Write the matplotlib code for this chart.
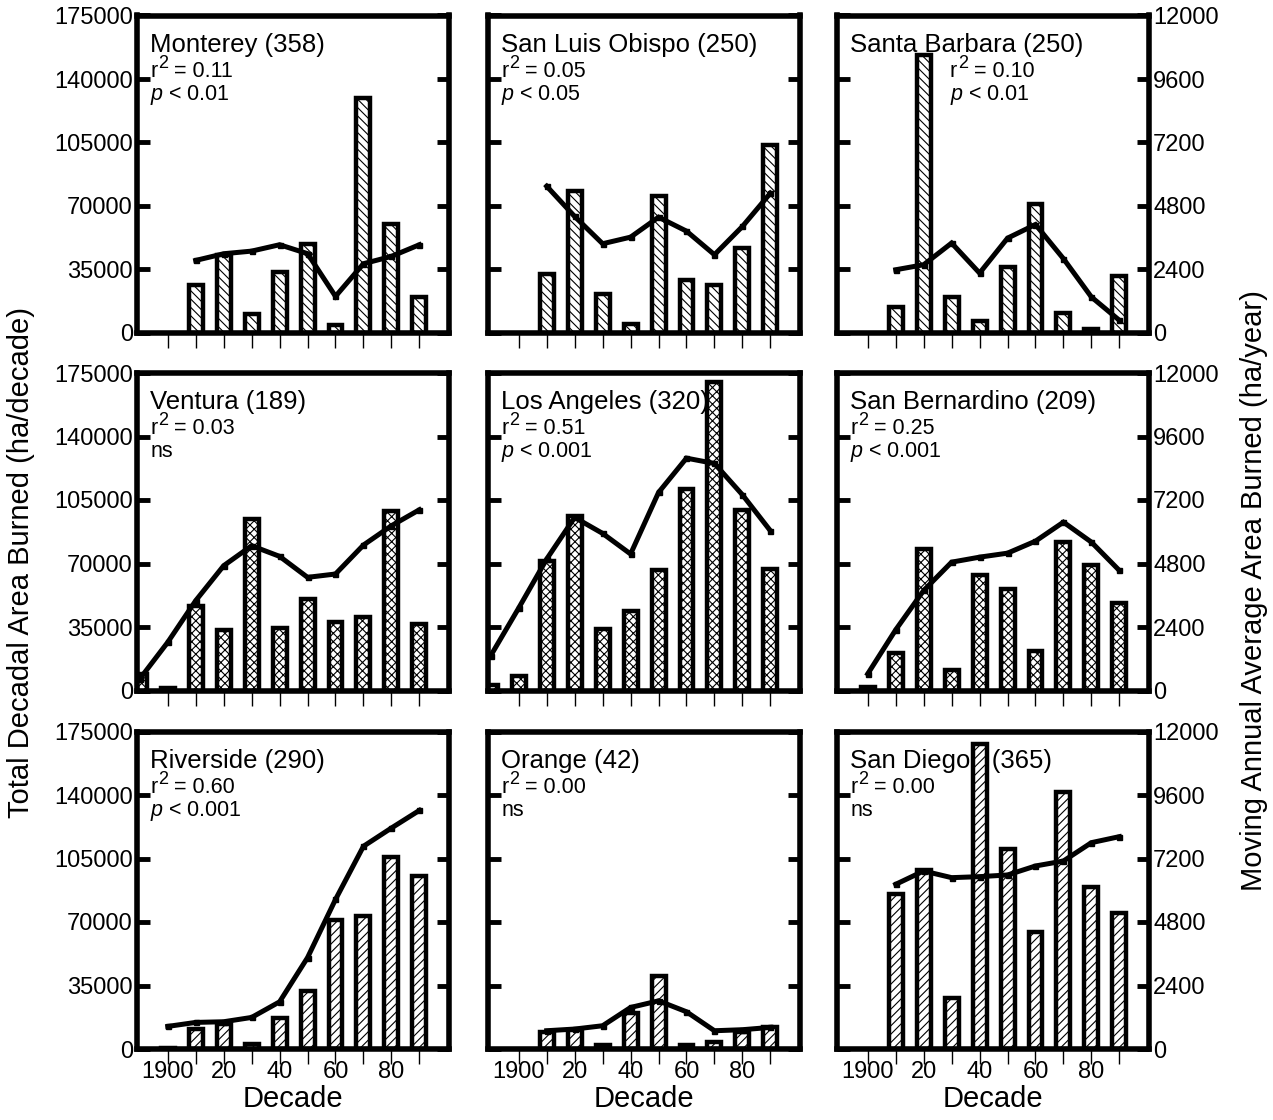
import numpy as np
import matplotlib
matplotlib.use("Agg")
import matplotlib.pyplot as plt

plt.rcParams['font.family'] = ['Liberation Sans', 'DejaVu Sans']
plt.rcParams['mathtext.fontset'] = 'custom'
plt.rcParams['mathtext.rm'] = 'Liberation Sans'
plt.rcParams['mathtext.it'] = 'Liberation Sans:italic'
plt.rcParams['hatch.linewidth'] = 0.8

nan = np.nan
decades = [1890, 1900, 1910, 1920, 1930, 1940, 1950, 1960, 1970, 1980, 1990]
tick_decades = [1900, 1910, 1920, 1930, 1940, 1950, 1960, 1970, 1980, 1990]
tick_labels = ["1900", "", "20", "", "40", "", "60", "", "80", ""]

counties = ["Monterey", "San Luis Obispo", "Santa Barbara",
            "Ventura", "Los Angeles", "San Bernardino",
            "Riverside", "Orange", "San Diego"]
titles = ["Monterey (358)", "San Luis Obispo (250)", "Santa Barbara (250)",
          "Ventura (189)", "Los Angeles (320)", "San Bernardino (209)",
          "Riverside (290)", "Orange (42)", "San Diego   (365)"]
r2_values = ["0.11", "0.05", "0.10", "0.03", "0.51", "0.25", "0.60", "0.00", "0.00"]
p_values = ["< 0.01", "< 0.05", "< 0.01", "ns", "< 0.001", "< 0.001", "< 0.001", "ns", "ns"]

# Total decadal area burned (ha/decade)
bars_monterey = [0, 0, 26400, 43100, 10500, 33400, 49000, 4400, 129700, 60000, 19600]
bars_slo = [0, 0, 32500, 78000, 21500, 5000, 75600, 29400, 26600, 46600, 103700]
bars_sb = [0, 0, 14100, 153500, 20000, 6800, 36500, 71000, 11000, 2200, 31200]
bars_ventura = [9000, 1500, 46600, 33400, 94800, 34700, 50200, 38000, 40700, 98900, 36500]
bars_la = [3000, 8100, 71400, 96100, 34100, 43800, 66400, 110800, 169900, 99400, 67100]
bars_sbern = [0, 2200, 20900, 77800, 11400, 63500, 56100, 21500, 82000, 69000, 48400]
bars_riverside = [0, 700, 10800, 13600, 2600, 17200, 31900, 71300, 73500, 106100, 95100]
bars_orange = [0, 0, 9500, 10300, 2200, 19600, 40100, 2200, 4000, 9500, 12100]
bars_sd = [0, 0, 85700, 98600, 28000, 168200, 110500, 64700, 141600, 89400, 74700]

# Moving annual average area burned (ha/year)
line_monterey = [nan, nan, 2743, 2996, 3095, 3336, 3000, 1385, 2619, 2895, 3336]
line_slo = [nan, nan, 5548, 4404, 3374, 3623, 4378, 3850, 2959, 4027, 5284]
line_sb = [nan, nan, 2390, 2580, 3400, 2265, 3585, 4100, 2808, 1360, 480]
line_ventura = [440, 1824, 3397, 4717, 5472, 5070, 4277, 4403, 5497, 6227, 6831]
line_la = [1321, 3120, 4970, 6541, 5937, 5159, 7484, 8782, 8580, 7397, 6038]
line_sbern = [nan, 630, 2294, 3780, 4851, 5040, 5191, 5645, 6363, 5607, 4536]
line_riverside = [nan, 854, 1005, 1030, 1193, 1783, 3454, 5652, 7662, 8352, 9018]
line_orange = [nan, nan, 690, 754, 879, 1570, 1821, 1407, 690, 729, 816]
line_sd = [nan, nan, 6224, 6728, 6476, 6514, 6577, 6917, 7106, 7799, 8026]

all_bars = [bars_monterey, bars_slo, bars_sb, bars_ventura, bars_la, bars_sbern,
            bars_riverside, bars_orange, bars_sd]
all_lines = [line_monterey, line_slo, line_sb, line_ventura, line_la, line_sbern,
             line_riverside, line_orange, line_sd]

left_ticks = [0, 35000, 70000, 105000, 140000, 175000]
right_ticks = [0, 2400, 4800, 7200, 9600, 12000]
row_hatches = ['\\\\\\\\', 'xxxx', '////']

W, H = 1273, 1120
fig = plt.figure(figsize=(W / 100, H / 100), dpi=100)

col_left_px = [137, 488, 837]
col_w_px = 312
row_top_px = [15.5, 373, 731.5]
row_h_px = 317.5

for i, name in enumerate(counties):
    r, c = divmod(i, 3)
    rect = [col_left_px[c] / W, 1 - (row_top_px[r] + row_h_px) / H, col_w_px / W, row_h_px / H]
    ax = fig.add_axes(rect)
    ax2 = ax.twinx()
    ax.set_xlim(1889, 2000.6)
    ax.set_ylim(0, 175000)
    ax2.set_ylim(0, 12000)

    xs = [d for d, v in zip(decades, all_bars[i]) if v > 0]
    vs = [v for v in all_bars[i] if v > 0]
    ax.bar(xs, vs, width=5.0, facecolor='white', edgecolor='black',
           linewidth=3.2, hatch=row_hatches[r], zorder=2)

    ax2.plot(decades, all_lines[i], color='black', linewidth=3.6,
             marker='s', markersize=3.6, solid_joinstyle='miter', zorder=3)

    # texts
    ax.text(0.042, 0.886, titles[i], transform=ax.transAxes, fontsize=18.5,
            va='baseline', ha='left', zorder=1)
    sx = 0.362 if name == "Santa Barbara" else 0.042
    fs = 15.5
    ax.annotate("r", xy=(sx, 0.807), xycoords='axes fraction', fontsize=fs,
                va='baseline', ha='left', zorder=1)
    ax.annotate("2", xy=(sx, 0.807), xycoords='axes fraction',
                xytext=(0.36 * fs, 0.42 * fs), textcoords='offset points',
                fontsize=13, va='baseline', ha='left', zorder=1)
    ax.annotate("= " + r2_values[i], xy=(sx, 0.807), xycoords='axes fraction',
                xytext=(0.36 * fs + 0.556 * 13 + 4.5, 0), textcoords='offset points',
                fontsize=fs, va='baseline', ha='left', zorder=1)
    if p_values[i] == "ns":
        ptxt = "ns"
    else:
        ptxt = r"$\mathit{p}$ " + p_values[i]
    ax.text(sx, 0.734, ptxt, transform=ax.transAxes, fontsize=fs,
            va='baseline', ha='left', zorder=1)

    for sp in ax.spines.values():
        sp.set_linewidth(4.0)
        sp.set_zorder(4)
    for sp in ax2.spines.values():
        sp.set_visible(False)

    ax.set_xticks(tick_decades)
    ax.set_yticks(left_ticks)
    ax2.set_yticks(right_ticks)
    ax.tick_params(axis='x', direction='out', length=11, width=1.0, pad=-2,
                   labelsize=17, labelbottom=(r == 2))
    if r == 2:
        ax.set_xticklabels(tick_labels)
    ax.tick_params(axis='y', direction='in', length=9, width=3.5, pad=3,
                   labelsize=17, left=True, right=True, labelleft=(c == 0), labelright=False)
    ax2.tick_params(axis='y', direction='in', length=0, width=0, pad=3,
                    labelsize=17, labelright=(c == 2), right=False, left=False)
    if c == 0:
        ax.set_yticklabels([str(t) for t in left_ticks])
    if c == 2:
        ax2.set_yticklabels([str(t) for t in right_ticks])
    ax.set_facecolor('white')

    if r == 2:
        fig.text((col_left_px[c] + col_w_px / 2) / W, 1 - 1107 / H, "Decade",
                 fontsize=21, ha='center', va='baseline')

fig.text(21 / W, 1 - 563 / H, "Total Decadal Area Burned (ha/decade)", fontsize=21,
         rotation=90, ha='center', va='center')
fig.text(1254 / W, 1 - 591 / H, "Moving Annual Average Area Burned (ha/year)", fontsize=21,
         rotation=90, ha='center', va='center')

fig.savefig("out.png", dpi=100, facecolor='white')
